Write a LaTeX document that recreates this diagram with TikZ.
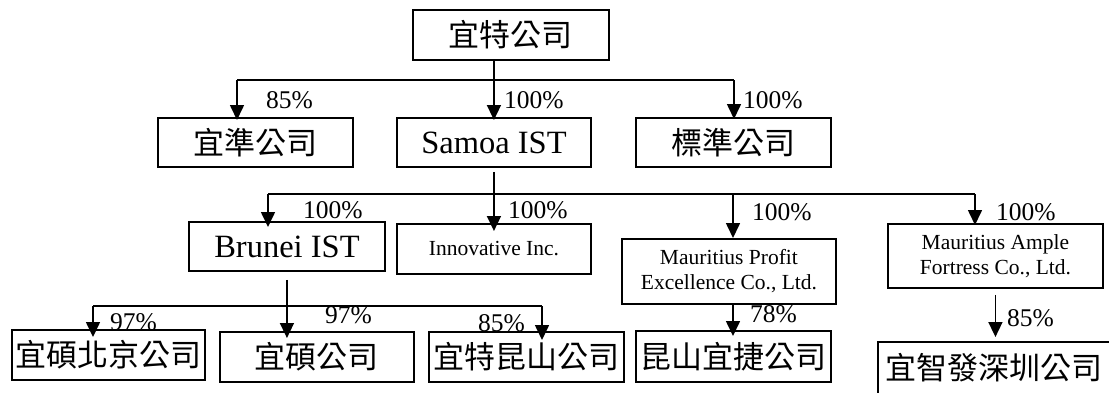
\documentclass[tikz,border=0pt]{standalone}
\usepackage{fontspec}
\setmainfont{Liberation Serif}
\newfontfamily\cjk{Noto Sans CJK TC}
\usetikzlibrary{arrows.meta}
\begin{document}
\begin{tikzpicture}[x=1pt,y=-1pt,
  box/.style={draw, line width=1.9pt, inner sep=0pt, anchor=north west},
  cjkt/.style={font=\cjk\fontsize{31}{31}\selectfont},
  lat/.style={font=\fontsize{32.5}{34}\selectfont},
  small/.style={font=\fontsize{21.5}{25}\selectfont, align=center},
  pct/.style={font=\fontsize{25.5}{25.5}\selectfont, anchor=west, inner sep=0pt},
  ln/.style={line width=1.6pt},
  arr/.style={line width=1.6pt, -{Triangle[length=15pt,width=14pt]}}]
\useasboundingbox (0,0) rectangle (1109,392);
\clip (0,0) rectangle (1109,392);
% boxes
\node[box, cjkt, minimum width=196pt, minimum height=50pt] (top) at (412,9) {宜特公司};
\node[box, cjkt, minimum width=195pt, minimum height=49pt] (zhun) at (157,117) {宜準公司};
\node[box, lat, minimum width=194pt, minimum height=49pt] (samoa) at (396,117) {Samoa IST};
\node[box, cjkt, minimum width=195pt, minimum height=49pt] (biao) at (635,117) {標準公司};
\node[box, lat, minimum width=196pt, minimum height=49pt] (brunei) at (188,221) {Brunei IST};
\node[box, small, minimum width=194pt, minimum height=50pt] (innov) at (396,223) {Innovative Inc.};
\node[box, small, minimum width=214pt, minimum height=65pt] (mpe) at (621,238) {Mauritius Profit\\Excellence Co., Ltd.};
\node[box, small, minimum width=215pt, minimum height=64pt] (maf) at (887,223) {Mauritius Ample\\Fortress Co., Ltd.};
\node[box, cjkt, minimum width=193pt, minimum height=50pt] (bj) at (11,329) {宜碩北京公司};
\node[box, cjkt, minimum width=194pt, minimum height=50pt] (shuo) at (219,331) {宜碩公司};
\node[box, cjkt, minimum width=195pt, minimum height=50pt] (ksh) at (428,331) {宜特昆山公司};
\node[box, cjkt, minimum width=195pt, minimum height=51pt] (kyj) at (635,330) {昆山宜捷公司};
\node[box, cjkt, minimum width=233pt, minimum height=52pt] (zf) at (877,341) {宜智發深圳公司};
% bus coordinates
\coordinate (b1l) at (237,80);
\coordinate (b1r) at (734,80);
\coordinate (b2l) at (268,194);
\coordinate (b2m) at (733,194);
\coordinate (b2r) at (975,194);
\coordinate (b3l) at (93,306);
\coordinate (b3r) at (542,306);
% level 1
\draw[ln] (b1l) -- (b1r);
\draw[arr, shorten >=-3pt] (top.south -| samoa.north) -- (samoa.north);
\draw[arr, shorten >=-3pt] (b1l) -- (b1l |- zhun.north);
\draw[arr, shorten >=-2pt] (b1r) -- (b1r |- biao.north);
% level 2
\draw[ln] (b2l) -- (b2r);
\draw[arr, shorten <=4pt, shorten >=-8pt] (samoa.south) -- (innov.north);
\draw[arr, shorten >=-6pt] (b2l) -- (b2l |- brunei.north);
\draw[arr] (b2m) -- (b2m |- mpe.north);
\draw[arr, shorten >=-2pt] (b2r) -- (b2r |- maf.north);
% level 3
\draw[ln] (b3l) -- (b3r);
\draw[arr, shorten <=8pt, shorten >=-7pt] (brunei.south) -- (brunei.south |- shuo.north);
\draw[arr, shorten >=-8pt] (b3l) -- (b3l |- bj.north);
\draw[arr, shorten >=-9pt] (b3r) -- (b3r |- ksh.north);
\draw[arr, shorten >=-6pt] (b2m |- mpe.south) -- (b2m |- kyj.north);
\draw[arr, shorten <=6pt, shorten >=4pt] (maf.south) -- (maf.south |- zf.north);
% labels
\node[pct] (l1) at (266,100) {85\%};
\node[pct] (l2) at (504,100) {100\%};
\node[pct] (l3) at (743,100) {100\%};
\node[pct] (l4) at (303,210) {100\%};
\node[pct] (l5) at (508,210) {100\%};
\node[pct] (l6) at (752,212) {100\%};
\node[pct] (l7) at (996,212) {100\%};
\node[pct] (l8) at (110,322) {97\%};
\node[pct] (l9) at (325,315) {97\%};
\node[pct] (l10) at (478,323) {85\%};
\node[pct] (l11) at (750,314) {78\%};
\node[pct] (l12) at (1007,318) {85\%};
\end{tikzpicture}
\end{document}
